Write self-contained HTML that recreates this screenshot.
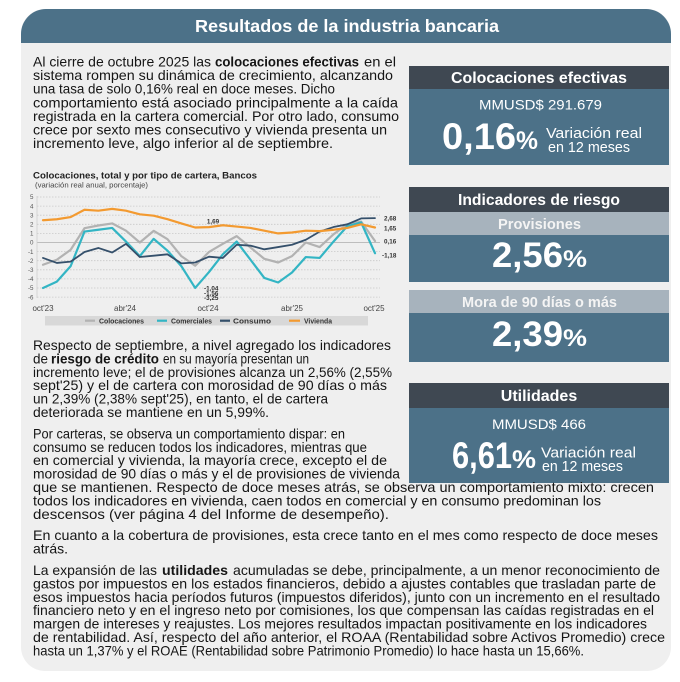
<!DOCTYPE html>
<html><head><meta charset="utf-8"><style>
html,body{margin:0;padding:0;background:#fff;}
svg{display:block;}
text{font-family:"Liberation Sans",Arial,sans-serif;}
.b{fill:#151515;font-size:13.7px;}
.bb{fill:#151515;font-size:13.7px;font-weight:bold;}
.w{fill:#fff;}
</style></head><body>
<svg width="680" height="682" viewBox="0 0 680 682" xmlns="http://www.w3.org/2000/svg">
<rect x="0" y="0" width="680" height="682" fill="#fff"/>
<rect x="21" y="9" width="650" height="662" rx="24" fill="#efefef"/>
<path d="M21,43 L21,34 A25,25 0 0 1 46,9 L646,9 A25,25 0 0 1 671,34 L671,43 Z" fill="#4c7188"/>
<text x="195" y="32" class="w" font-size="17.5" font-weight="bold" textLength="304" lengthAdjust="spacingAndGlyphs">Resultados de la industria bancaria</text>

<!-- Paragraph 1 -->
<text class="b" x="33" y="66.5" textLength="178" lengthAdjust="spacingAndGlyphs">Al cierre de octubre 2025 las</text>
<text class="bb" x="215" y="66.5" textLength="144" lengthAdjust="spacingAndGlyphs">colocaciones efectivas</text>
<text class="b" x="364" y="66.5" textLength="32" lengthAdjust="spacingAndGlyphs">en el</text>
<text class="b" x="33" y="80.1" textLength="360" lengthAdjust="spacingAndGlyphs">sistema rompen su dinámica de crecimiento, alcanzando</text>
<text class="b" x="33" y="93.7" textLength="302" lengthAdjust="spacingAndGlyphs">una tasa de solo 0,16% real en doce meses. Dicho</text>
<text class="b" x="33" y="107.3" textLength="365" lengthAdjust="spacingAndGlyphs">comportamiento está asociado principalmente a la caída</text>
<text class="b" x="33" y="120.9" textLength="366" lengthAdjust="spacingAndGlyphs">registrada en la cartera comercial. Por otro lado, consumo</text>
<text class="b" x="33" y="134.5" textLength="354" lengthAdjust="spacingAndGlyphs">crece por sexto mes consecutivo y vivienda presenta un</text>
<text class="b" x="33" y="148.1" textLength="300" lengthAdjust="spacingAndGlyphs">incremento leve, algo inferior al de septiembre.</text>

<!-- Box 1 -->
<rect x="409" y="66" width="260" height="23" fill="#3f4852"/>
<rect x="409" y="89" width="260" height="76" fill="#4c7188"/>
<text x="451" y="83" class="w" font-size="16" font-weight="bold" textLength="176" lengthAdjust="spacingAndGlyphs">Colocaciones efectivas</text>
<text x="479" y="109.5" class="w" font-size="14" textLength="123" lengthAdjust="spacingAndGlyphs">MMUSD$ 291.679</text>
<text x="442" y="149" class="w" font-size="37" font-weight="bold" textLength="74" lengthAdjust="spacingAndGlyphs">0,16</text>
<text x="516" y="149" class="w" font-size="25" font-weight="bold" textLength="22" lengthAdjust="spacingAndGlyphs">%</text>
<text x="546" y="138" class="w" font-size="15" textLength="96" lengthAdjust="spacingAndGlyphs">Variación real</text>
<text x="548" y="152" class="w" font-size="15" textLength="82" lengthAdjust="spacingAndGlyphs">en 12 meses</text>

<!-- Chart -->
<text x="33" y="178.3" font-size="9.5" font-weight="bold" fill="#222" textLength="224" lengthAdjust="spacingAndGlyphs">Colocaciones, total y por tipo de cartera, Bancos</text>
<text x="35" y="187.5" font-size="7" fill="#444" textLength="113" lengthAdjust="spacingAndGlyphs">(variación real anual, porcentaje)</text>
<g stroke="#c9c9c9" stroke-width="0.8" stroke-dasharray="1.5,1.5">
<line x1="37" y1="197" x2="380" y2="197"/>
<line x1="37" y1="206.1" x2="380" y2="206.1"/>
<line x1="37" y1="215.2" x2="380" y2="215.2"/>
<line x1="37" y1="224.3" x2="380" y2="224.3"/>
<line x1="37" y1="233.4" x2="380" y2="233.4"/>
<line x1="37" y1="251.6" x2="380" y2="251.6"/>
<line x1="37" y1="260.7" x2="380" y2="260.7"/>
<line x1="37" y1="269.8" x2="380" y2="269.8"/>
<line x1="37" y1="278.9" x2="380" y2="278.9"/>
<line x1="37" y1="288" x2="380" y2="288"/>
<line x1="37" y1="297.1" x2="380" y2="297.1"/>
</g>
<line x1="37" y1="242.5" x2="380" y2="242.5" stroke="#bdbdbd" stroke-width="0.9"/>
<line x1="37" y1="196" x2="37" y2="298" stroke="#cfcfcf" stroke-width="0.8"/>
<g font-size="6.2" fill="#555" text-anchor="end">
<text x="33.5" y="199.2">5</text>
<text x="33.5" y="208.3">4</text>
<text x="33.5" y="217.4">3</text>
<text x="33.5" y="226.5">2</text>
<text x="33.5" y="235.6">1</text>
<text x="33.5" y="244.7">0</text>
<text x="33.5" y="253.8">-1</text>
<text x="33.5" y="262.9">-2</text>
<text x="33.5" y="272">-3</text>
<text x="33.5" y="281.1">-4</text>
<text x="33.5" y="290.2">-5</text>
<text x="33.5" y="299.3">-6</text>
</g>
<g font-size="8" fill="#444" text-anchor="middle">
<text x="43" y="311">oct'23</text>
<text x="125" y="311">abr'24</text>
<text x="208" y="311">oct'24</text>
<text x="292" y="311">abr'25</text>
<text x="374" y="311">oct'25</text>
</g>
<g fill="none" stroke-width="2.2" stroke-linejoin="round" stroke-linecap="round">
<polyline stroke="#b2b2b2" points="43,264.77 56.83,259.77 70.67,249.77 84.5,228.23 98.33,225.5 112.17,223.41 126,230.68 139.83,242.5 153.67,230.86 167.5,239.14 181.33,256.14 195.17,265.77 209,251.95 222.83,243.86 236.67,236.14 250.5,247.5 264.33,258.86 278.17,262.5 292,256.14 305.83,242.5 319.67,247.05 333.5,234.32 347.33,224.32 361.17,221.59 375,241.05"/>
<polyline stroke="#33b5c4" points="43,287.95 56.83,281.59 70.67,266.13 84.5,231.59 98.33,229.77 112.17,227.96 126,241.59 139.83,256.14 153.67,238.86 167.5,250.68 181.33,266.13 195.17,287.95 209,272.04 222.83,254.32 236.67,241.59 250.5,259.77 264.33,277.95 278.17,282.5 292,272.5 305.83,257.04 319.67,257.95 333.5,241.59 347.33,226.14 361.17,222.5 375,253.23"/>
<polyline stroke="#35506b" stroke-width="1.8" points="43,257.95 56.83,262.95 70.67,261.59 84.5,252.04 98.33,247.95 112.17,252.5 126,243.86 139.83,257.04 153.67,255.68 167.5,254.32 181.33,263.41 195.17,262.5 209,256.68 222.83,257.95 236.67,244.77 250.5,245.68 264.33,249.32 278.17,247.05 292,244.77 305.83,239.77 319.67,231.59 333.5,227.05 347.33,224.32 361.17,218.41 375,218.14"/>
<polyline stroke="#f39a30" points="43,220.23 56.83,219.23 70.67,217.05 84.5,209.78 98.33,210.69 112.17,208.87 126,210.69 139.83,214.32 153.67,215.68 167.5,219.23 181.33,223.41 195.17,227.5 209,227.14 222.83,225.23 236.67,226.59 250.5,227.96 264.33,230.68 278.17,233.41 292,232.5 305.83,230.68 319.67,231.14 333.5,229.77 347.33,227.96 361.17,224.32 375,227.5"/>
</g>
<g font-size="6.3" font-weight="bold" fill="#333">
<text x="384" y="220.5">2,68</text>
<text x="384" y="230.5">1,65</text>
<text x="384" y="243.5">0,16</text>
<text x="382" y="257.5">-1,18</text>
<text x="213" y="223.5" text-anchor="middle">1,69</text>
<text x="204" y="290.5">-1,04</text>
<text x="204" y="295.5">-1,56</text>
<text x="204" y="300">-3,25</text>
</g>
<rect x="45" y="316" width="323" height="9.5" fill="#d8d8d8"/>
<g stroke-width="2.2">
<line x1="85" y1="320.7" x2="95" y2="320.7" stroke="#b2b2b2"/>
<line x1="157" y1="320.7" x2="167" y2="320.7" stroke="#33b5c4"/>
<line x1="220" y1="320.7" x2="230" y2="320.7" stroke="#35506b"/>
<line x1="289" y1="320.7" x2="300" y2="320.7" stroke="#f39a30"/>
</g>
<g font-size="7" font-weight="bold" fill="#333">
<text x="99" y="323.3" textLength="45" lengthAdjust="spacingAndGlyphs">Colocaciones</text>
<text x="171" y="323.3" textLength="41" lengthAdjust="spacingAndGlyphs">Comerciales</text>
<text x="233" y="323.3" textLength="38" lengthAdjust="spacingAndGlyphs">Consumo</text>
<text x="304" y="323.3" textLength="28" lengthAdjust="spacingAndGlyphs">Vivienda</text>
</g>

<!-- Box 2 risk -->
<rect x="409" y="187" width="260" height="25" fill="#3f4852"/>
<text x="458" y="205" class="w" font-size="16" font-weight="bold" textLength="162" lengthAdjust="spacingAndGlyphs">Indicadores de riesgo</text>
<rect x="409" y="212" width="260" height="23" fill="#a7b3bd"/>
<text x="498" y="229" fill="#f4f4f4" font-size="15" font-weight="bold" textLength="83" lengthAdjust="spacingAndGlyphs">Provisiones</text>
<rect x="409" y="235" width="260" height="47" fill="#4c7188"/>
<text x="492" y="267" class="w" font-size="35" font-weight="bold" textLength="71" lengthAdjust="spacingAndGlyphs">2,56</text>
<text x="563" y="267" class="w" font-size="24" font-weight="bold" textLength="24" lengthAdjust="spacingAndGlyphs">%</text>
<rect x="409" y="290" width="260" height="23" fill="#a7b3bd"/>
<text x="462" y="307" fill="#f4f4f4" font-size="15" font-weight="bold" textLength="155" lengthAdjust="spacingAndGlyphs">Mora de 90 días o más</text>
<rect x="409" y="313" width="260" height="49" fill="#4c7188"/>
<text x="492" y="346" class="w" font-size="35" font-weight="bold" textLength="71" lengthAdjust="spacingAndGlyphs">2,39</text>
<text x="563" y="346" class="w" font-size="24" font-weight="bold" textLength="24" lengthAdjust="spacingAndGlyphs">%</text>

<!-- Box 3 -->
<rect x="409" y="383" width="260" height="25" fill="#3f4852"/>
<text x="539" y="401" class="w" font-size="16" font-weight="bold" text-anchor="middle">Utilidades</text>
<rect x="409" y="408" width="260" height="75" fill="#4c7188"/>
<text x="492" y="429" class="w" font-size="14" textLength="94" lengthAdjust="spacingAndGlyphs">MMUSD$ 466</text>
<text x="452" y="468" class="w" font-size="37" font-weight="bold" textLength="60" lengthAdjust="spacingAndGlyphs">6,61</text>
<text x="512" y="468" class="w" font-size="25" font-weight="bold" textLength="24" lengthAdjust="spacingAndGlyphs">%</text>
<text x="541" y="457.5" class="w" font-size="15" textLength="95" lengthAdjust="spacingAndGlyphs">Variación real</text>
<text x="542" y="471" class="w" font-size="15" textLength="81" lengthAdjust="spacingAndGlyphs">en 12 meses</text>

<!-- Paragraph 2 -->
<text class="b" x="33" y="350" textLength="358" lengthAdjust="spacingAndGlyphs">Respecto de septiembre, a nivel agregado los indicadores</text>
<text class="b" x="33" y="363.4" textLength="15" lengthAdjust="spacingAndGlyphs">de</text>
<text class="bb" x="51" y="363.4" textLength="108" lengthAdjust="spacingAndGlyphs">riesgo de crédito</text>
<text class="b" x="163" y="363.4" textLength="146" lengthAdjust="spacingAndGlyphs">en su mayoría presentan un</text>
<text class="b" x="33" y="376.8" textLength="359" lengthAdjust="spacingAndGlyphs">incremento leve; el de provisiones alcanza un 2,56% (2,55%</text>
<text class="b" x="33" y="390.2" textLength="354" lengthAdjust="spacingAndGlyphs">sept'25) y el de cartera con morosidad de 90 días o más</text>
<text class="b" x="33" y="403.6" textLength="295" lengthAdjust="spacingAndGlyphs">un 2,39% (2,38% sept'25), en tanto, el de cartera</text>
<text class="b" x="33" y="417" textLength="236" lengthAdjust="spacingAndGlyphs">deteriorada se mantiene en un 5,99%.</text>

<text class="b" x="33" y="438.4" textLength="312" lengthAdjust="spacingAndGlyphs">Por carteras, se observa un comportamiento dispar: en</text>
<text class="b" x="33" y="451.8" textLength="334" lengthAdjust="spacingAndGlyphs">consumo se reducen todos los indicadores, mientras que</text>
<text class="b" x="33" y="465.2" textLength="354" lengthAdjust="spacingAndGlyphs">en comercial y vivienda, la mayoría crece, excepto el de</text>
<text class="b" x="33" y="478.6" textLength="367" lengthAdjust="spacingAndGlyphs">morosidad de 90 días o más y el de provisiones de vivienda</text>
<text class="b" x="33" y="492" textLength="621" lengthAdjust="spacingAndGlyphs">que se mantienen. Respecto de doce meses atrás, se observa un comportamiento mixto: crecen</text>
<text class="b" x="33" y="505.4" textLength="568" lengthAdjust="spacingAndGlyphs">todos los indicadores en vivienda, caen todos en comercial y en consumo predominan los</text>
<text class="b" x="33" y="518.8" textLength="356" lengthAdjust="spacingAndGlyphs">descensos (ver página 4 del Informe de desempeño).</text>

<text class="b" x="33" y="540.2" textLength="625" lengthAdjust="spacingAndGlyphs">En cuanto a la cobertura de provisiones, esta crece tanto en el mes como respecto de doce meses</text>
<text class="b" x="33" y="553.6" textLength="35" lengthAdjust="spacingAndGlyphs">atrás.</text>

<text class="b" x="33" y="575" textLength="124" lengthAdjust="spacingAndGlyphs">La expansión de las</text>
<text class="bb" x="162" y="575" textLength="66" lengthAdjust="spacingAndGlyphs">utilidades</text>
<text class="b" x="233" y="575" textLength="427" lengthAdjust="spacingAndGlyphs">acumuladas se debe, principalmente, a un menor reconocimiento de</text>
<text class="b" x="33" y="588.4" textLength="623" lengthAdjust="spacingAndGlyphs">gastos por impuestos en los estados financieros, debido a ajustes contables que trasladan parte de</text>
<text class="b" x="33" y="601.8" textLength="627" lengthAdjust="spacingAndGlyphs">esos impuestos hacia períodos futuros (impuestos diferidos), junto con un incremento en el resultado</text>
<text class="b" x="33" y="615.2" textLength="621" lengthAdjust="spacingAndGlyphs">financiero neto y en el ingreso neto por comisiones, los que compensan las caídas registradas en el</text>
<text class="b" x="33" y="628.6" textLength="614" lengthAdjust="spacingAndGlyphs">margen de intereses y reajustes. Los mejores resultados impactan positivamente en los indicadores</text>
<text class="b" x="33" y="642" textLength="632" lengthAdjust="spacingAndGlyphs">de rentabilidad. Así, respecto del año anterior, el ROAA (Rentabilidad sobre Activos Promedio) crece</text>
<text class="b" x="33" y="655.4" textLength="551" lengthAdjust="spacingAndGlyphs">hasta un 1,37% y el ROAE (Rentabilidad sobre Patrimonio Promedio) lo hace hasta un 15,66%.</text>
</svg>
</body></html>
